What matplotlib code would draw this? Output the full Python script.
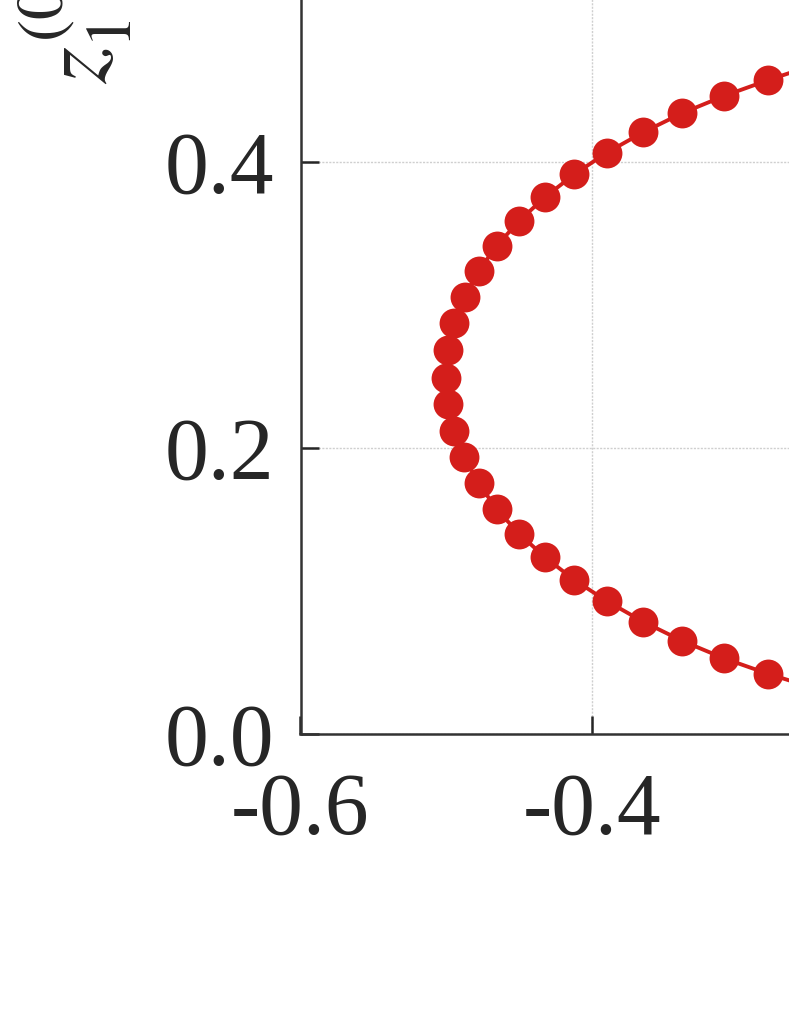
import matplotlib
matplotlib.use("Agg")
import matplotlib.pyplot as plt

plt.rcParams['font.family'] = ['Liberation Serif', 'DejaVu Serif']
plt.rcParams['mathtext.fontset'] = 'stix'
plt.rcParams['axes.unicode_minus'] = False

# Data (trajectory points)
x_vals = [-0.250, -0.2787, -0.3091, -0.3380, -0.3646, -0.3897, -0.4119, -0.4323,
          -0.4499, -0.4652, -0.4776, -0.4872, -0.4946, -0.4990, -0.5001,
          -0.4989, -0.4944, -0.4875, -0.4776, -0.4652, -0.4499, -0.4323,
          -0.4119, -0.3897, -0.3646, -0.3380, -0.3091, -0.2787, -0.250]
y_vals = [0.467, 0.4573, 0.4462, 0.4341, 0.4208, 0.4065, 0.3914, 0.3753,
          0.3587, 0.3415, 0.3238, 0.3058, 0.2872, 0.2685, 0.2493,
          0.2306, 0.2119, 0.1935, 0.1753, 0.1571, 0.1401, 0.1238,
          0.1077, 0.0930, 0.0785, 0.0652, 0.0529, 0.0420, 0.033]

x_ticks = [-0.6, -0.4]
x_ticklabels = ['-0.6', '-0.4']
y_ticks = [0.0, 0.2, 0.4]
y_ticklabels = ['0.0', '0.2', '0.4']
y_label = r'$z_1^{(0)}$'

W, H = 789, 1021
fig = plt.figure(figsize=(W / 100, H / 100), dpi=100)

px_per_x = 1456.0
px_per_y = 1430.0
left_px, bottom_px = 300.5, 1021 - 734
xlim = (-0.6, 0.0)
ylim = (0.0, 0.6)
ax = fig.add_axes([left_px / W, bottom_px / H,
                   (xlim[1] - xlim[0]) * px_per_x / W,
                   (ylim[1] - ylim[0]) * px_per_y / H])

ax.plot(x_vals, y_vals, '-', color='#d41e1b', linewidth=2.8,
        marker='o', markersize=21.5, markeredgewidth=0, zorder=3)

ax.set_xlim(*xlim)
ax.set_ylim(*ylim)
ax.set_xticks(x_ticks)
ax.set_xticklabels(x_ticklabels)
ax.set_yticks(y_ticks)
ax.set_yticklabels(y_ticklabels)

for s in ['top', 'right']:
    ax.spines[s].set_visible(False)
for s in ['left', 'bottom']:
    ax.spines[s].set_color('#333333')
    ax.spines[s].set_linewidth(1.8)

ax.tick_params(direction='in', length=13, width=1.8, color='#262626',
               labelsize=63, labelcolor='#262626')
ax.tick_params(axis='x', pad=27)
ax.tick_params(axis='y', pad=19)

ax.grid(True, color='#cfcfcf', linestyle=(0, (1.5, 1.0)), linewidth=1.0, zorder=0)
ax.set_axisbelow(True)

fig.text(134 / W, 1 - 84 / H, y_label, rotation=90, ha='right', va='bottom',
         fontsize=68, color='#262626')

fig.savefig('out.png', dpi=100)
